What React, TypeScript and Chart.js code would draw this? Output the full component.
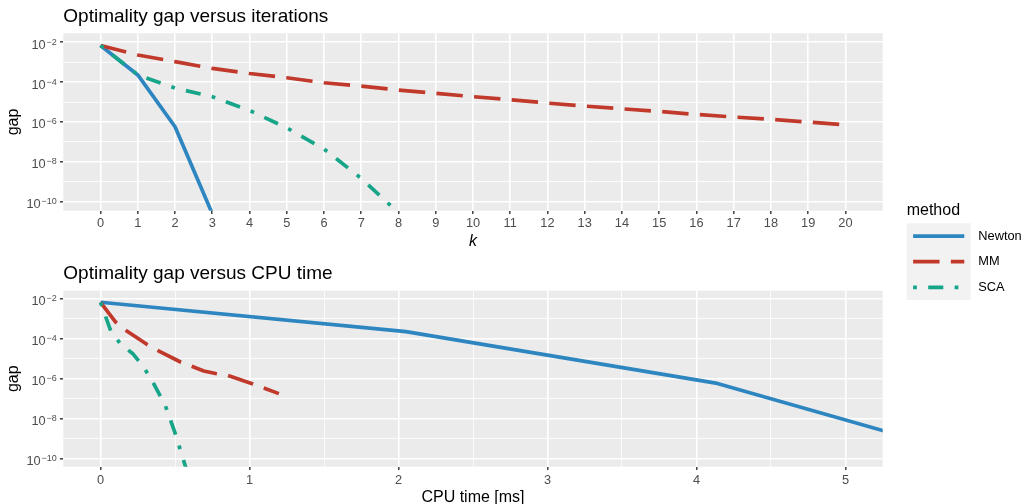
import React, { useEffect, useRef } from 'react';
import { Chart, registerables } from 'chart.js';

Chart.register(...registerables);

const W = 1025;
const H = 504;
const FONT = "'Liberation Sans', Arial, Helvetica, sans-serif";

// ---------- data ----------
const methods = ['Newton', 'MM', 'SCA'];

const newtonIter = [0, 1, 2, 3];
const newtonGap = [6.9e-3, 2.3e-4, 5.8e-7, 2.5e-11];
const newtonTime = [0, 2.05, 4.14, 6.19];

const mmIter = [0, 1, 2, 3, 4, 5, 6, 7, 8, 9, 10, 11, 12, 13, 14, 15, 16, 17, 18, 19, 20];
const mmGap = [
  6.9e-3, 2.29e-3, 1.07e-3, 4.9e-4, 2.7e-4, 1.66e-4, 9.3e-5, 6.3e-5, 4.0e-5, 2.75e-5, 1.86e-5,
  1.32e-5, 8.9e-6, 6.3e-6, 4.6e-6, 3.4e-6, 2.4e-6, 1.78e-6, 1.35e-6, 1.0e-6, 7.1e-7,
];
const mmTime = [0, 0.1, 0.168, 0.313, 0.38, 0.537, 0.693, 0.772, 0.85, 1.018, 1.197];
const mmGapByTime = [6.9e-3, 7.2e-4, 2.75e-4, 5.2e-5, 2.7e-5, 6.9e-6, 2.45e-6, 1.82e-6, 1.48e-6, 5.6e-7, 1.78e-7];

const scaIter = [0, 1, 2, 3, 4, 5, 6, 7, 8];
const scaGap = [6.9e-3, 2.3e-4, 5.0e-5, 1.86e-5, 3.8e-6, 5.1e-7, 4.4e-8, 1.48e-9, 2.8e-11];
const scaTime = [0, 0.07, 0.14, 0.215, 0.29, 0.36, 0.435, 0.505, 0.576];

const iterTicks = [0, 1, 2, 3, 4, 5, 6, 7, 8, 9, 10, 11, 12, 13, 14, 15, 16, 17, 18, 19, 20];
const timeTicks = [0, 1, 2, 3, 4, 5];
const timeMinorTicks = [0.5, 1.5, 2.5, 3.5, 4.5];
const gapTickExponents = [-10, -8, -6, -4, -2];
const gapMinorExponents = [-9, -7, -5, -3];

// ---------- styles ----------
const LW = 3.7;
const DU = 3.775; // dash unit
const methodColors = ['#2E86C1', '#C0392B', '#17A589'];
const methodDashes = [[], [7 * DU, 3 * DU], [1 * DU, 3 * DU, 4 * DU, 3 * DU]];
const methodOrder = [2, 1, 0];

const AREA_LEFT = 63.3;
const AREA_RIGHT = 882.7;

function series(i: number, xs: number[], ys: number[]) {
  return {
    label: methods[i],
    data: xs.map((x, j) => ({ x, y: ys[j] })),
    borderColor: methodColors[i],
    backgroundColor: methodColors[i],
    borderWidth: LW,
    borderDash: methodDashes[i],
    borderCapStyle: 'butt',
    borderJoinStyle: 'round',
    pointRadius: 0,
    pointHoverRadius: 0,
    fill: false,
    tension: 0,
    clip: 0,
    order: methodOrder[i],
  };
}

function drawSupLabel(ctx: CanvasRenderingContext2D, right: number, y: number, exp: number) {
  const base = '10';
  const sup = '\u2212' + String(Math.abs(exp));
  ctx.fillStyle = '#4D4D4D';
  ctx.textBaseline = 'alphabetic';
  ctx.textAlign = 'left';
  ctx.font = `9px ${FONT}`;
  const sw = ctx.measureText(sup).width;
  ctx.font = `12.8px ${FONT}`;
  const bw = ctx.measureText(base).width;
  const x0 = right - sw - 0.7 - bw;
  ctx.fillText(base, x0, y + 6.4);
  ctx.font = `9px ${FONT}`;
  ctx.fillText(sup, x0 + bw + 0.7, y + 2.4);
}

const ggPlugin = {
  id: 'gg',
  beforeDraw(chart: any) {
    const { ctx, chartArea: a } = chart;
    ctx.save();
    ctx.fillStyle = '#EBEBEB';
    ctx.fillRect(a.left, a.top, a.right - a.left, a.bottom - a.top);
    ctx.restore();
  },
  afterDraw(chart: any, _args: any, opts: any) {
    const { ctx, chartArea: a } = chart;
    const ys = chart.scales.y;
    ctx.save();
    // title
    ctx.fillStyle = '#000000';
    ctx.font = `19px ${FONT}`;
    ctx.textAlign = 'left';
    ctx.textBaseline = 'alphabetic';
    ctx.fillText(opts.title, a.left, a.top - 11.6);
    // y tick labels
    for (const e of gapTickExponents) {
      drawSupLabel(ctx, a.left - 6.6, ys.getPixelForValue(Math.pow(10, e)), e);
    }
    // y title
    ctx.save();
    ctx.translate(17.6, (a.top + a.bottom) / 2);
    ctx.rotate(-Math.PI / 2);
    ctx.fillStyle = '#000000';
    ctx.font = `16px ${FONT}`;
    ctx.textAlign = 'center';
    ctx.textBaseline = 'alphabetic';
    ctx.fillText('gap', 0, 0);
    ctx.restore();
    // x title
    ctx.fillStyle = '#000000';
    ctx.font = `${opts.xItalic ? 'italic ' : ''}16px ${FONT}`;
    ctx.textAlign = 'center';
    ctx.textBaseline = 'alphabetic';
    ctx.fillText(opts.xTitle, (a.left + a.right) / 2, a.bottom + 34.8);
    // legend
    if (opts.legend) {
      const lx = 906.7;
      ctx.fillStyle = '#000000';
      ctx.font = `16px ${FONT}`;
      ctx.textAlign = 'left';
      ctx.fillText('method', lx, 215);
      const keyW = 64;
      const keyH = 25.6;
      const top = 223.3;
      ctx.fillStyle = '#F2F2F2';
      ctx.fillRect(lx, top, keyW, keyH * methods.length);
      methods.forEach((m, i) => {
        const cy = top + keyH * i + keyH / 2;
        ctx.save();
        ctx.strokeStyle = methodColors[i];
        ctx.lineWidth = LW;
        ctx.lineCap = 'butt';
        ctx.setLineDash(methodDashes[i]);
        ctx.beginPath();
        ctx.moveTo(lx + keyW * 0.1, cy);
        ctx.lineTo(lx + keyW * 0.9, cy);
        ctx.stroke();
        ctx.restore();
        ctx.fillStyle = '#000000';
        ctx.font = `12.8px ${FONT}`;
        ctx.textBaseline = 'middle';
        ctx.textAlign = 'left';
        ctx.fillText(m, 978.3, cy);
      });
    }
    ctx.restore();
  },
};

function isMajorExp(v: number) {
  const e = Math.round(Math.log10(v));
  return gapTickExponents.includes(e);
}

function yScale(minExp: number, maxExp: number) {
  const all = [...gapTickExponents, ...gapMinorExponents].sort((p, q) => p - q);
  return {
    type: 'logarithmic',
    min: Math.pow(10, minExp),
    max: Math.pow(10, maxExp),
    afterBuildTicks: (s: any) => {
      s.ticks = all.map((e) => ({ value: Math.pow(10, e) }));
    },
    afterFit: (s: any) => {
      s.width = AREA_LEFT;
    },
    border: { display: false },
    grid: {
      color: '#FFFFFF',
      lineWidth: (c: any) => (c.tick && isMajorExp(c.tick.value) ? 1.6 : 0.8),
      drawTicks: true,
      tickLength: 3.4,
      tickWidth: 1.4,
      tickColor: (c: any) => (c.tick && isMajorExp(c.tick.value) ? '#333333' : 'rgba(0,0,0,0)'),
    },
    ticks: { display: false },
  };
}

function xScale(min: number, max: number, major: number[], minor: number[], height: number, pad: number) {
  const all = [...major, ...minor].sort((p, q) => p - q);
  const isMajor = (v: number) => major.some((m) => Math.abs(m - v) < 1e-9);
  return {
    type: 'linear',
    min,
    max,
    afterBuildTicks: (s: any) => {
      s.ticks = all.map((v) => ({ value: v }));
    },
    afterFit: (s: any) => {
      s.height = height;
    },
    border: { display: false },
    grid: {
      color: '#FFFFFF',
      lineWidth: (c: any) => (c.tick && isMajor(c.tick.value) ? 1.6 : 0.8),
      drawTicks: true,
      tickLength: 3.4,
      tickWidth: 1.4,
      tickColor: (c: any) => (c.tick && isMajor(c.tick.value) ? '#333333' : 'rgba(0,0,0,0)'),
    },
    ticks: {
      autoSkip: false,
      maxRotation: 0,
      minRotation: 0,
      padding: pad,
      color: '#4D4D4D',
      font: { family: FONT, size: 12.8 },
      callback: (v: number) => (isMajor(v) ? String(v) : ''),
    },
  };
}

function makeConfig(panel: 'iter' | 'time'): any {
  const isIter = panel === 'iter';
  const top = isIter ? 33.3 : 290.7;
  const bottom = isIter ? 210.7 : 466.7;
  const xh = isIter ? 40 : 30;
  const datasets = isIter
    ? [series(0, newtonIter, newtonGap), series(1, mmIter, mmGap), series(2, scaIter, scaGap)]
    : [series(0, newtonTime, newtonGap), series(1, mmTime, mmGapByTime), series(2, scaTime, scaGap)];
  return {
    type: 'line',
    data: { datasets },
    options: {
      responsive: false,
      maintainAspectRatio: false,
      animation: false,
      events: [],
      devicePixelRatio: 1,
      layout: { padding: { left: 0, right: W - AREA_RIGHT, top, bottom: H - bottom - xh } },
      plugins: {
        legend: { display: false },
        tooltip: { enabled: false },
        title: { display: false },
        gg: {
          title: isIter ? 'Optimality gap versus iterations' : 'Optimality gap versus CPU time',
          xTitle: isIter ? 'k' : 'CPU time [ms]',
          xItalic: isIter,
          legend: isIter,
        },
      },
      scales: {
        x: isIter
          ? xScale(-1, 21, iterTicks, [], xh, 1.5)
          : xScale(-0.25, 5.25, timeTicks, timeMinorTicks, xh, 2.8),
        y: isIter ? yScale(-10.45, -1.55) : yScale(-10.42, -1.58),
      },
    },
    plugins: [ggPlugin],
  };
}

export default function App() {
  const topRef = useRef<HTMLCanvasElement | null>(null);
  const botRef = useRef<HTMLCanvasElement | null>(null);
  useEffect(() => {
    document.body.style.margin = '0';
    const c1 = new Chart(topRef.current as HTMLCanvasElement, makeConfig('iter'));
    const c2 = new Chart(botRef.current as HTMLCanvasElement, makeConfig('time'));
    return () => {
      c1.destroy();
      c2.destroy();
    };
  }, []);
  return (
    <div style={{ position: 'relative', width: W, height: H, background: '#FFFFFF' }}>
      <canvas ref={botRef} width={W} height={H} style={{ position: 'absolute', left: 0, top: 0 }} />
      <canvas ref={topRef} width={W} height={H} style={{ position: 'absolute', left: 0, top: 0 }} />
    </div>
  );
}
